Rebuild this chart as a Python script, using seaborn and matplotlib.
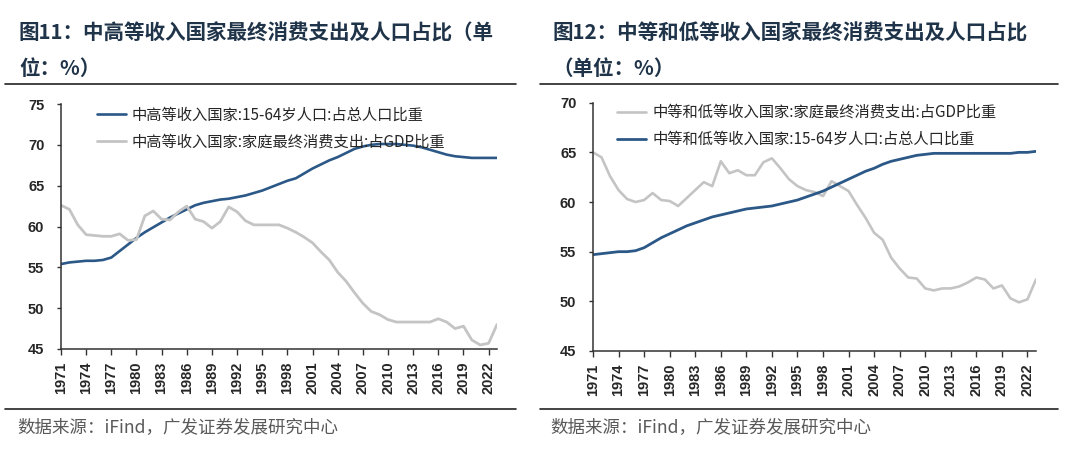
import numpy as np
import pandas as pd
import matplotlib
matplotlib.use("Agg")
import matplotlib.pyplot as plt
import seaborn as sns
from matplotlib.lines import Line2D

# 数据
years = list(range(1971, 2024))

# 图11：中高等收入国家
umic_pop = [55.4, 55.6, 55.7, 55.8, 55.8, 55.9, 56.2, 57.0, 57.8, 58.6,
            59.3, 59.9, 60.5, 61.1, 61.6, 62.1, 62.6, 62.9, 63.1, 63.3,
            63.4, 63.6, 63.8, 64.1, 64.4, 64.8, 65.2, 65.6, 65.9, 66.5,
            67.1, 67.6, 68.1, 68.5, 69.0, 69.5, 69.8, 70.0, 70.1, 70.1,
            70.1, 70.0, 69.9, 69.7, 69.4, 69.1, 68.8, 68.6, 68.5, 68.4,
            68.4, 68.4, 68.4]
umic_cons = [62.6, 62.1, 60.2, 59.0, 58.9, 58.8, 58.8, 59.1, 58.3, 58.4,
             61.3, 61.9, 60.9, 60.8, 61.8, 62.5, 60.9, 60.6, 59.8, 60.6,
             62.4, 61.8, 60.7, 60.2, 60.2, 60.2, 60.2, 59.8, 59.3, 58.7,
             58.0, 56.9, 55.9, 54.4, 53.3, 51.9, 50.6, 49.6, 49.2, 48.6,
             48.3, 48.3, 48.3, 48.3, 48.3, 48.7, 48.3, 47.5, 47.8, 46.1,
             45.5, 45.7, 48.0]

# 图12：中等和低等收入国家
lmic_cons = [65.0, 64.5, 62.6, 61.2, 60.3, 60.0, 60.2, 60.9, 60.2, 60.1,
             59.6, 60.4, 61.2, 62.0, 61.6, 64.1, 62.9, 63.2, 62.7, 62.7,
             64.0, 64.4, 63.4, 62.3, 61.6, 61.2, 61.0, 60.6, 62.1, 61.6,
             61.1, 59.7, 58.4, 56.9, 56.2, 54.4, 53.3, 52.4, 52.3, 51.3,
             51.1, 51.3, 51.3, 51.5, 51.9, 52.4, 52.2, 51.3, 51.6, 50.3,
             49.9, 50.2, 52.2]
lmic_pop = [54.7, 54.8, 54.9, 55.0, 55.0, 55.1, 55.4, 55.9, 56.4, 56.8,
            57.2, 57.6, 57.9, 58.2, 58.5, 58.7, 58.9, 59.1, 59.3, 59.4,
            59.5, 59.6, 59.8, 60.0, 60.2, 60.5, 60.8, 61.1, 61.5, 61.9,
            62.3, 62.7, 63.1, 63.4, 63.8, 64.1, 64.3, 64.5, 64.7, 64.8,
            64.9, 64.9, 64.9, 64.9, 64.9, 64.9, 64.9, 64.9, 64.9, 64.9,
            65.0, 65.0, 65.1]

xticks = list(range(1971, 2023, 3))

BLUE = "#2b5887"
GREY = "#c4c4c4"
TITLE_C = "#1f3349"
CJK = ["Noto Sans CJK SC", "DejaVu Sans"]

sns.set_theme(style="ticks")
plt.rcParams["font.family"] = CJK

fig = plt.figure(figsize=(10.8, 4.51), dpi=100)
W, H = 1080, 451


def fx(x):
    return x / W


def fy(y):
    return 1 - y / H


def draw_panel(ax, s1, s2, ymin, ymax):
    (lab1, vals1, col1), (lab2, vals2, col2) = s1, s2
    df = pd.DataFrame({"year": years, lab1: vals1, lab2: vals2})
    sns.lineplot(data=df, x="year", y=lab1, color=col1, lw=1.9, label=lab1, ax=ax)
    sns.lineplot(data=df, x="year", y=lab2, color=col2, lw=2.0, label=lab2, ax=ax)
    ax.set_xlim(1971, 2023)
    ax.set_ylim(ymin, ymax)
    ax.set_yticks(range(ymin, ymax + 1, 5))
    ax.set_xticks(xticks)
    ax.set_xticklabels([str(y) for y in xticks], rotation=90,
                       fontfamily="Liberation Sans", fontweight="bold", fontsize=10.5)
    ax.set_yticklabels([str(v) for v in range(ymin, ymax + 1, 5)],
                       fontfamily="Liberation Sans", fontweight="bold", fontsize=10.5)
    ax.set_xlabel("")
    ax.set_ylabel("")
    sns.despine(ax=ax)
    for sp in ["left", "bottom"]:
        ax.spines[sp].set_color("#333333")
        ax.spines[sp].set_linewidth(1.1)
    ax.tick_params(axis="y", length=3, width=1, color="#333333", pad=9)
    ax.tick_params(axis="x", length=4, width=1, color="#333333", pad=5)
    ax.grid(False)


# 左图
ax1 = fig.add_axes([fx(61), fy(349), fx(436), 245 / H])
draw_panel(ax1,
           ("中高等收入国家:15-64岁人口:占总人口比重", umic_pop, BLUE),
           ("中高等收入国家:家庭最终消费支出:占GDP比重", umic_cons, GREY),
           45, 75)
ax1.legend(loc="upper left", bbox_to_anchor=(0.082, 0.99), frameon=False,
           borderpad=0, borderaxespad=0, handlelength=1.9, handletextpad=0.4,
           labelspacing=0.65, prop={"family": CJK, "size": 11})

# 右图
ax2 = fig.add_axes([fx(593), fy(351), fx(443), 248.3 / H])
draw_panel(ax2,
           ("中等和低等收入国家:家庭最终消费支出:占GDP比重", lmic_cons, GREY),
           ("中等和低等收入国家:15-64岁人口:占总人口比重", lmic_pop, BLUE),
           45, 70)
ax2.legend(loc="upper left", bbox_to_anchor=(0.055, 0.995), frameon=False,
           borderpad=0, borderaxespad=0, handlelength=1.9, handletextpad=0.4,
           labelspacing=0.65, prop={"family": CJK, "size": 11})

# 标题
title_kw = dict(fontsize=14.8, fontweight="bold", color=TITLE_C, va="center", ha="left")
fig.text(fx(19), fy(33), "图11：中高等收入国家最终消费支出及人口占比（单", **title_kw)
fig.text(fx(19), fy(68), "位：%）", **title_kw)
fig.text(fx(552), fy(33), "图12：中等和低等收入国家最终消费支出及人口占比", **title_kw)
fig.text(fx(552), fy(68), "（单位：%）", **title_kw)

# 分隔线
for x0, x1 in [(5, 516), (540, 1058)]:
    for y in (84, 409):
        fig.add_artist(Line2D([fx(x0), fx(x1)], [fy(y), fy(y)], color="#222222", lw=1.2))

# 数据来源
src_kw = dict(fontsize=12.6, color="#595959", va="center", ha="left")
fig.text(fx(17), fy(428), "数据来源：iFind，广发证券发展研究中心", **src_kw)
fig.text(fx(550), fy(428), "数据来源：iFind，广发证券发展研究中心", **src_kw)

fig.savefig("out.png", dpi=100, facecolor="white")
